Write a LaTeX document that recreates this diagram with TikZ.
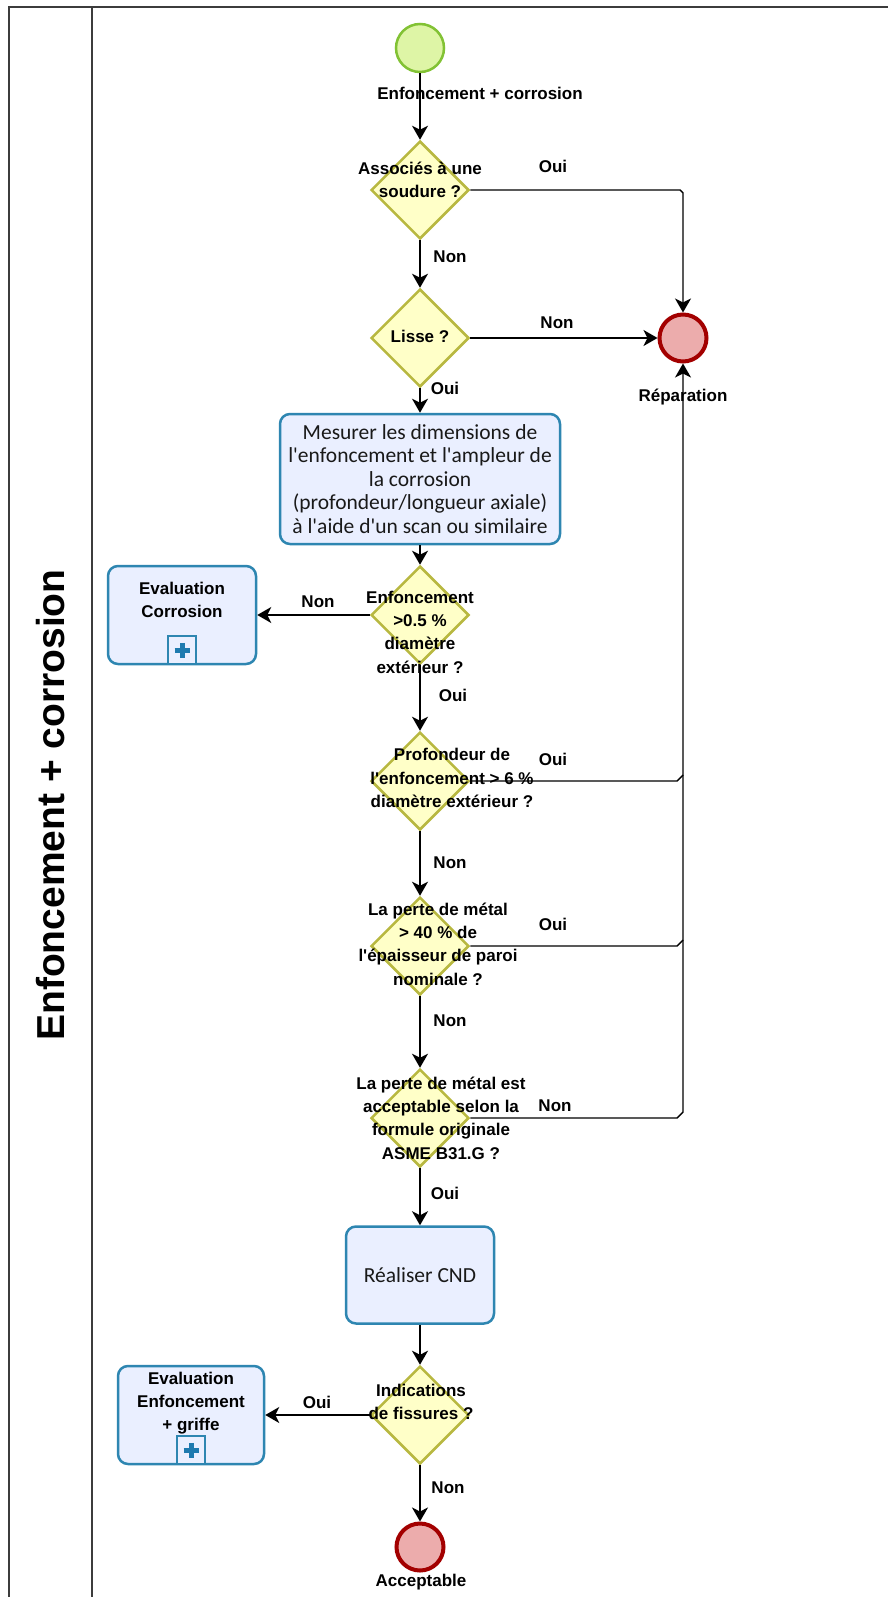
\documentclass[tikz,border=0pt]{standalone}
\usepackage{fontspec}
\setmainfont{Liberation Sans}
\newfontfamily\lblfam{Liberation Sans}
\newfontfamily\taskfam{Carlito}
\usetikzlibrary{shapes.geometric,arrows.meta,calc}
\definecolor{gwfill}{RGB}{255,255,200}
\definecolor{gwborder}{RGB}{184,184,64}
\definecolor{taskfill}{RGB}{234,239,255}
\definecolor{taskborder}{RGB}{46,134,177}
\definecolor{plusblue}{RGB}{30,122,175}
\definecolor{endfill}{RGB}{236,172,172}
\definecolor{endborder}{RGB}{163,0,0}
\definecolor{startfill}{RGB}{222,245,166}
\definecolor{startborder}{RGB}{130,194,52}
\definecolor{framecol}{RGB}{60,60,60}
\definecolor{tasktxt}{RGB}{25,25,25}
\newcommand{\lblfnt}{\lblfam\fontsize{17}{23.3}\selectfont\bfseries}
\newcommand{\taskfnt}{\taskfam\fontsize{21.5}{23.4}\selectfont}
\newcommand{\poolfnt}{\lblfam\fontsize{39}{44}\selectfont\bfseries}
\begin{document}
\begin{tikzpicture}[x=1pt,y=-1pt,
  gw/.style={diamond, aspect=1, draw=gwborder, fill=gwfill, line width=2.5pt, minimum width=98pt, minimum height=98pt, inner sep=0pt},
  taskbox/.style={rectangle, rounded corners=10pt, draw=taskborder, fill=taskfill, line width=2.5pt, inner sep=0pt, align=center, font=\taskfnt, text=tasktxt},
  subbox/.style={rectangle, rounded corners=10pt, draw=taskborder, fill=taskfill, line width=2.5pt, inner sep=0pt},
  endev/.style={circle, draw=endborder, fill=endfill, line width=4pt, minimum size=47pt, inner sep=0pt},
  startev/.style={circle, draw=startborder, fill=startfill, line width=2.5pt, minimum size=48pt, inner sep=0pt},
  lbl/.style={font=\lblfnt, inner sep=0pt, align=center},
  seqflow/.style={draw=black, line width=1.4pt, -{Stealth[length=14pt,width=16pt,inset=4pt]}},
  plainline/.style={draw=black, line width=1.4pt},
  frameline/.style={draw=framecol, line width=2pt},
  marker/.style={rectangle, draw=taskborder, fill=taskfill, line width=2pt, minimum size=28pt, inner sep=0pt, anchor=south}
]
\useasboundingbox (0,0) rectangle (888,1597);
\fill[white] (0,0) rectangle (888,1597);

% pool frame
\draw[frameline] (9,1597) -- (9,7) -- (888,7);
\draw[frameline] (92,7) -- (92,1597);
\node[font=\poolfnt, rotate=90, anchor=base, inner sep=0pt] (pool) at (64,805) {Enfoncement + corrosion};

% events
\node[startev] (start) at (420,48) {};
\node[lbl] (startlbl) at (480,93) {Enfoncement + corrosion};
\node[endev] (rep) at (683,338) {};
\node[lbl] (replbl) at (683,397) {Réparation};
\node[endev] (acc) at (420,1547) {};
\node[lbl] (acclbl) at (421,1582) {Acceptable};

% gateways
\node[gw] (d1) at (420,190) {};
\node[lbl] (d1t) at (420,180) {Associés à une\\soudure ?};
\node[gw] (d2) at (420,338) {};
\node[lbl] (d2t) at (420,336) {Lisse ?};
\node[gw] (d3) at (420,615) {};
\node[lbl] (d3t) at (420,632) {Enfoncement\\>0.5 \%\\diamètre\\extérieur ?};
\node[gw] (d4) at (420,781) {};
\node[lbl] (d4t) at (452,778) {Profondeur de\\l'enfoncement > 6 \%\\diamètre extérieur ?};
\node[gw] (d5) at (420,946) {};
\node[lbl] (d5t) at (438,944) {La perte de métal\\> 40 \% de\\l'épaisseur de paroi\\nominale ?};
\node[gw] (d6) at (420,1118) {};
\node[lbl] (d6t) at (441,1118) {La perte de métal est\\acceptable selon la\\formule originale\\ASME B31.G ?};
\node[gw] (d7) at (420,1415) {};
\node[lbl] (d7t) at (421,1402) {Indications\\de fissures ?};

% tasks
\node[taskbox, minimum width=280pt, minimum height=130pt] (t1) at (420,479) {Mesurer les dimensions de\\l'enfoncement et l'ampleur de\\la corrosion\\(profondeur/longueur axiale)\\à l'aide d'un scan ou similaire};
\node[taskbox, minimum width=148pt, minimum height=97pt] (t2) at (420,1275) {Réaliser CND};

% sub-processes
\node[subbox, minimum width=148pt, minimum height=98pt] (s1) at (182,615) {};
\node[lbl] (s1t) at (182,600) {Evaluation\\Corrosion};
\node[marker] (m1) at (s1.south) {};
\draw[plusblue, line width=5pt] ($(m1.center)+(-7.5,0)$) -- ($(m1.center)+(7.5,0)$);
\draw[plusblue, line width=5pt] ($(m1.center)+(0,-7.5)$) -- ($(m1.center)+(0,7.5)$);

\node[subbox, minimum width=146pt, minimum height=98pt] (s2) at (191,1415) {};
\node[lbl] (s2t) at (191,1403) {Evaluation\\Enfoncement\\+ griffe};
\node[marker] (m2) at (s2.south) {};
\draw[plusblue, line width=5pt] ($(m2.center)+(-7.5,0)$) -- ($(m2.center)+(7.5,0)$);
\draw[plusblue, line width=5pt] ($(m2.center)+(0,-7.5)$) -- ($(m2.center)+(0,7.5)$);

% chamfer corner coordinates
\coordinate (k1) at ($(d1.east -| rep)$);
\coordinate (k4) at ($(d4.east -| rep)$);
\coordinate (k5) at ($(d5.east -| rep)$);
\coordinate (k6) at ($(d6.east -| rep)$);

% flows
\draw[seqflow] (start) -- (d1);
\draw[seqflow] (d1) -- (d2);
\node[lbl] (n1) at (450,257) {Non};
\draw[seqflow] (d1.east) -- ($(k1)+(-3,0)$) -- ($(k1)+(0,3)$) -- (rep.north);
\node[lbl] (o1) at (553,166) {Oui};
\draw[seqflow] (d2.east) -- (rep.west);
\node[lbl] (n2) at (557,323) {Non};
\draw[seqflow] (d2.south) -- (t1.north);
\node[lbl] (o2) at (445,388) {Oui};
\draw[seqflow] (t1.south) -- (d3.north);
\draw[seqflow] (d3.west) -- (s1.east);
\node[lbl] (n3) at (318,602) {Non};
\draw[seqflow] (d3.south) -- (d4.north);
\node[lbl] (o3) at (453,695) {Oui};
\draw[plainline] (d4.east) -- ($(k4)+(-6,0)$) -- ($(k4)+(0,-6)$);
\node[lbl] (o4) at (553,759) {Oui};
\draw[seqflow] (d4.south) -- (d5.north);
\node[lbl] (n4) at (450,863) {Non};
\draw[plainline] (d5.east) -- ($(k5)+(-6,0)$) -- ($(k5)+(0,-6)$);
\node[lbl] (o5) at (553,924) {Oui};
\draw[seqflow] (d5.south) -- (d6.north);
\node[lbl] (n5) at (450,1021) {Non};
\draw[seqflow] (d6.east) -- ($(k6)+(-6,0)$) -- ($(k6)+(0,-6)$) -- (rep.south);
\node[lbl] (n6) at (555,1106) {Non};
\draw[seqflow] (d6.south) -- (t2.north);
\node[lbl] (o6) at (445,1193) {Oui};
\draw[seqflow] (t2.south) -- (d7.north);
\draw[seqflow] (d7.west) -- (s2.east);
\node[lbl] (o7) at (317,1402) {Oui};
\draw[seqflow] (d7.south) -- (acc.north);
\node[lbl] (n7) at (448,1488) {Non};
\end{tikzpicture}
\end{document}
